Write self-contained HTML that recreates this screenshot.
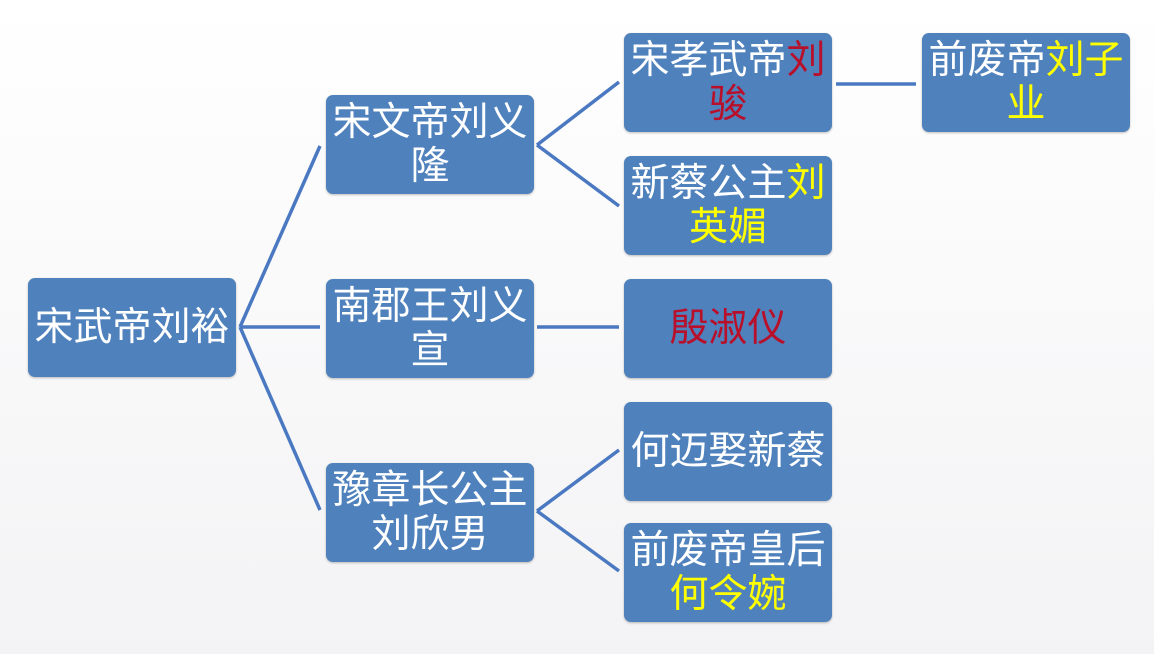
<!DOCTYPE html>
<html><head><meta charset="utf-8"><style>
body{margin:0;width:1154px;height:654px;background:linear-gradient(#ffffff,#f3f3f5);position:relative;overflow:hidden;font-family:"Liberation Sans","Noto Sans CJK SC",sans-serif}
.b{position:absolute;width:208px;height:99px;background:#4f81bd;border-radius:7px;box-shadow:0 1px 2px rgba(0,0,0,.25);color:#fff;font-size:39px;line-height:44px;display:flex;align-items:center;justify-content:center;text-align:center;box-sizing:border-box;padding:0 1px}
.b>div{width:100%;white-space:nowrap}
.r{color:#b8102a}.y{color:#ffff00}
svg{position:absolute;left:0;top:0}
</style></head><body>
<svg width="1154" height="654"><g stroke="#4a79c2" stroke-width="3.5" fill="none">
<line x1="240" y1="327" x2="320" y2="146"/><line x1="240" y1="327" x2="320" y2="327"/><line x1="240" y1="327" x2="320" y2="510"/>
<line x1="537" y1="145" x2="619" y2="82"/><line x1="537" y1="145" x2="619" y2="206"/>
<line x1="537" y1="327" x2="619" y2="327"/>
<line x1="537" y1="511" x2="619" y2="450"/><line x1="537" y1="511" x2="619" y2="571"/>
<line x1="836" y1="84" x2="916" y2="84"/>
</g></svg>
<div class="b" style="left:28px;top:278px"><div>宋武帝刘裕</div></div>
<div class="b" style="left:326px;top:95px"><div>宋文帝刘义<br>隆</div></div>
<div class="b" style="left:326px;top:279px"><div>南郡王刘义<br>宣</div></div>
<div class="b" style="left:326px;top:463px"><div>豫章长公主<br>刘欣男</div></div>
<div class="b" style="left:624px;top:33px"><div>宋孝武帝<span class="r">刘</span><br><span class="r">骏</span></div></div>
<div class="b" style="left:624px;top:156px"><div>新蔡公主<span class="y">刘</span><br><span class="y">英媚</span></div></div>
<div class="b" style="left:624px;top:279px"><div><span class="r">殷淑仪</span></div></div>
<div class="b" style="left:624px;top:402px"><div>何迈娶新蔡</div></div>
<div class="b" style="left:624px;top:523px"><div>前废帝皇后<br><span class="y">何令婉</span></div></div>
<div class="b" style="left:922px;top:33px"><div>前废帝<span class="y">刘子</span><br><span class="y">业</span></div></div>
</body></html>
